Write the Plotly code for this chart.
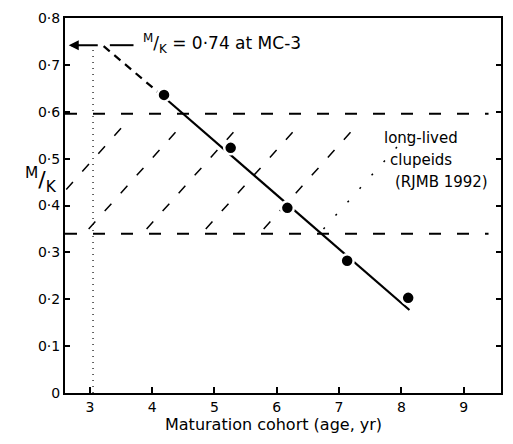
import plotly.graph_objects as go

# ---- data ----
cohort = [4.19, 5.26, 6.17, 7.13, 8.11]          # maturation cohort (age, yr)
mk = [0.636, 0.523, 0.395, 0.282, 0.203]          # M/K

fit_dash_x = [3.22, 4.19]
fit_dash_y = [0.740, 0.631]
fit_solid_x = [4.19, 8.13]
fit_solid_y = [0.631, 0.177]

mk_at_mc3 = 0.742
mc3_x = 3.05

band_y = [0.596, 0.34]          # long-lived clupeid range
band_x = [2.6, 9.4]

hatch_x0 = [2.05, 2.98, 3.91, 4.86, 5.79, 6.75]
hatch_dx = 1.52
hatch_y = [0.35, 0.575]

x_ticks = [3, 4, 5, 6, 7, 8, 9]
y_ticks = [0, 0.1, 0.2, 0.3, 0.4, 0.5, 0.6, 0.7, 0.8]
y_labels = ["0", "0·1", "0·2", "0·3", "0·4", "0·5", "0·6", "0·7", "0·8"]

FONT = "DejaVu Sans"
XMIN, XMAX = 2.6, 9.6

fig = go.Figure()

# hatching (diagonal dashed lines inside the band)
for i, x0 in enumerate(hatch_x0):
    xa, ya = x0, hatch_y[0]
    xb, yb = x0 + hatch_dx, hatch_y[1]
    if xa < XMIN + 0.02:
        slope = (yb - ya) / (xb - xa)
        ya = ya + slope * (XMIN + 0.02 - xa)
        xa = XMIN + 0.02
    dash = "2px,16px" if i == len(hatch_x0) - 1 else "10px,14px"
    fig.add_trace(go.Scatter(x=[xa, xb], y=[ya, yb], mode="lines",
                             line=dict(color="black", width=1.5, dash=dash),
                             hoverinfo="skip", showlegend=False))

# band boundaries
for yv in band_y:
    fig.add_trace(go.Scatter(x=band_x, y=[yv, yv], mode="lines",
                             line=dict(color="black", width=2, dash="12px,16px"),
                             hoverinfo="skip", showlegend=False))

# dotted reference at MC-3
fig.add_trace(go.Scatter(x=[mc3_x, mc3_x], y=[0, mk_at_mc3], mode="lines",
                         line=dict(color="black", width=1.2, dash="1px,5px"),
                         hoverinfo="skip", showlegend=False))

# short horizontal dash between arrow and text
fig.add_trace(go.Scatter(x=[3.32, 3.7], y=[mk_at_mc3, mk_at_mc3], mode="lines",
                         line=dict(color="black", width=2),
                         hoverinfo="skip", showlegend=False))

# fitted line: extrapolated (dashed) and fitted (solid)
fig.add_trace(go.Scatter(x=fit_dash_x, y=fit_dash_y, mode="lines",
                         line=dict(color="black", width=2.2, dash="8px,6px"),
                         hoverinfo="skip", showlegend=False))
fig.add_trace(go.Scatter(x=fit_solid_x, y=fit_solid_y, mode="lines",
                         line=dict(color="black", width=2.2),
                         hoverinfo="skip", showlegend=False))

# data points
fig.add_trace(go.Scatter(x=cohort, y=mk, mode="markers",
                         marker=dict(color="black", size=13,
                                     line=dict(color="white", width=2.5)),
                         showlegend=False))

annotations = [
    dict(x=XMIN + 0.06, y=mk_at_mc3, ax=3.15, ay=mk_at_mc3, axref="x", ayref="y",
         xref="x", yref="y", text="", showarrow=True, arrowhead=2,
         arrowsize=1, arrowwidth=2, arrowcolor="black"),
    dict(x=3.82, y=mk_at_mc3 + 0.004, xref="x", yref="y", xanchor="left",
         yanchor="middle", showarrow=False,
         text="<sup>M</sup>/<sub>K</sub> = 0·74 at MC-3",
         font=dict(family=FONT, size=17, color="black")),
    dict(x=8.32, y=0.544, xref="x", yref="y", showarrow=False, text="long-lived",
         font=dict(family=FONT, size=15, color="black")),
    dict(x=8.32, y=0.497, xref="x", yref="y", showarrow=False, text="clupeids",
         font=dict(family=FONT, size=15, color="black")),
    dict(x=8.65, y=0.45, xref="x", yref="y", showarrow=False, text="(RJMB 1992)",
         font=dict(family=FONT, size=15, color="black")),
    dict(x=-0.097, y=0.567, xref="paper", yref="paper", showarrow=False,
         text="<sup>M</sup>/<sub>K</sub>",
         font=dict(family=FONT, size=22, color="black")),
    dict(x=0.479, y=-0.085, xref="paper", yref="paper", showarrow=False,
         yanchor="middle", text="Maturation cohort (age, yr)",
         font=dict(family=FONT, size=16, color="black")),
]

# the page body has an 8px default margin; size the figure to fit inside it
fig.update_layout(
    width=497, height=428,
    margin=dict(l=57, r=2, t=10, b=43),
    paper_bgcolor="white", plot_bgcolor="white",
    showlegend=False,
    annotations=annotations,
    font=dict(family=FONT, color="black"),
)
fig.update_xaxes(range=[XMIN, XMAX], tickvals=x_ticks,
                 ticktext=[str(v) for v in x_ticks],
                 ticks="inside", ticklen=6, tickwidth=2, tickcolor="black",
                 showline=True, linewidth=2, linecolor="black", mirror=True,
                 showgrid=False, zeroline=False,
                 tickfont=dict(family=FONT, size=14, color="black"))
fig.update_yaxes(range=[0, 0.8], tickvals=y_ticks, ticktext=y_labels,
                 ticks="inside", ticklen=5, tickwidth=2, tickcolor="black",
                 showline=True, linewidth=2, linecolor="black", mirror="ticks",
                 showgrid=False, zeroline=False,
                 tickfont=dict(family=FONT, size=14, color="black"))

fig.write_html("out.html")
